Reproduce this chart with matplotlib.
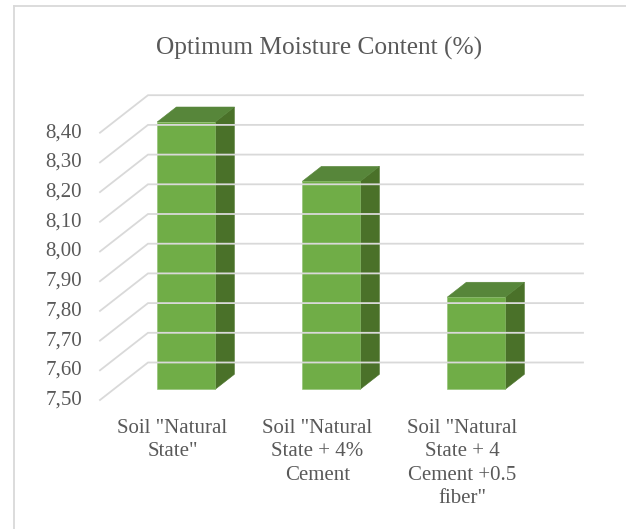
import matplotlib
matplotlib.use('Agg')
import matplotlib.pyplot as plt
from matplotlib.patches import Polygon
from matplotlib.lines import Line2D
from matplotlib.transforms import ScaledTranslation, IdentityTransform

categories = ['Soil "Natural\nState"',
              'Soil "Natural\nState + 4%\nCement',
              'Soil "Natural\nState + 4\nCement +0.5\nfiber"']
values = [8.40, 8.20, 7.81]
y_ticks = [7.50, 7.60, 7.70, 7.80, 7.90, 8.00, 8.10, 8.20, 8.30, 8.40]
tick_labels = ['7,50', '7,60', '7,70', '7,80', '7,90', '8,00', '8,10', '8,20', '8,30', '8,40']
title = 'Optimum Moisture Content (%)'

W, H, DPI = 626, 529, 100
plt.rcParams['font.family'] = 'serif'
plt.rcParams['font.serif'] = ['Liberation Serif', 'Tinos', 'Times New Roman', 'DejaVu Serif']
fig = plt.figure(figsize=(W / DPI, H / DPI), dpi=DPI)
fig.patch.set_facecolor('white')
ax = fig.add_axes([100 / W, (H - 400) / H, 435 / W, (400 - 132.7) / H])
ax.set_xlim(-0.5, 2.5)
ax.set_ylim(7.5, 8.4)
ax.axis('off')

DX, DY = 48.0, 37.5   # depth offset in pixels
F0, F1 = 0.285, 0.685  # bar front/back depth fractions
HW = 0.2               # bar half width (category units)
grid_c = '#D9D9D9'
text_c = '#595959'
front_c, top_c, side_c = '#70AD47', '#57863A', '#4A7129'


def P(x, v, f):
    px, py = ax.transData.transform((x, v))
    return (px + f * DX, py + f * DY)


ident = IdentityTransform()

# border (only left and top visible)
fig.add_artist(Line2D([13.5 / W, 13.5 / W], [0, (H - 5.5) / H], color=grid_c, lw=1.3,
                      transform=fig.transFigure))
fig.add_artist(Line2D([13.5 / W, 1], [(H - 5.5) / H, (H - 5.5) / H], color=grid_c, lw=1.3,
                      transform=fig.transFigure))

# gridlines: left wall diagonals + back wall horizontals
x0, x1 = ax.get_xlim()
for v in y_ticks:
    a = P(x0, v, 0)
    b = P(x0, v, 1)
    c = P(x1, v, 1)
    fig.add_artist(Line2D([a[0], b[0], c[0]], [a[1], b[1], c[1]], color=grid_c, lw=1.3,
                          transform=ident, solid_joinstyle='miter'))

# bars
base = y_ticks[0]
for i, v in enumerate(values):
    side = [P(i + HW, base, F0), P(i + HW, base, F1), P(i + HW, v, F1), P(i + HW, v, F0)]
    top = [P(i - HW, v, F0), P(i + HW, v, F0), P(i + HW, v, F1), P(i - HW, v, F1)]
    front = [P(i - HW, base, F0), P(i + HW, base, F0), P(i + HW, v, F0), P(i - HW, v, F0)]
    for pts, col in ((side, side_c), (top, top_c), (front, front_c)):
        fig.add_artist(Polygon(pts, closed=True, facecolor=col, edgecolor='#8DBF6E' if col == front_c else col,
                               lw=0.4, transform=ident))

# y tick labels
for v, lab in zip(y_ticks, tick_labels):
    ax.text(x0, v, lab, transform=ax.transData + ScaledTranslation(-18 / DPI, 0, fig.dpi_scale_trans),
            ha='right', va='center', fontsize=15, color=text_c, clip_on=False)

# category labels
for i, lab in enumerate(categories):
    ax.text(i, base, lab, transform=ax.transData + ScaledTranslation(0, -19 / DPI, fig.dpi_scale_trans),
            ha='center', va='top', fontsize=15, color=text_c, linespacing=1.31, clip_on=False)

fig.text(319 / W, (H - 48) / H, title, ha='center', va='center', fontsize=18.3, color=text_c)

fig.savefig('out.png', dpi=DPI, facecolor='white')
